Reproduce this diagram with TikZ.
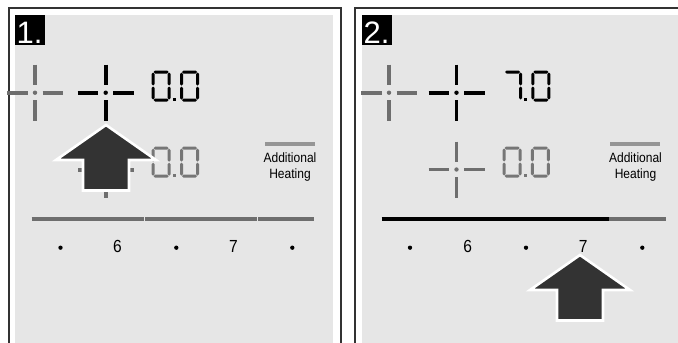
\documentclass[tikz,border=0pt]{standalone}
\usepackage{fontspec}
\setmainfont{Liberation Sans}
\newfontfamily\narrowfont[FakeStretch=0.89]{Liberation Sans}
\definecolor{bggrey}{HTML}{E6E6E6}
\definecolor{framecol}{HTML}{333333}
\definecolor{crossgrey}{HTML}{6E6E6E}
\definecolor{digitgrey}{HTML}{767676}
\definecolor{bargrey}{HTML}{959595}
\definecolor{arrowfill}{HTML}{333333}
\newcommand\hsg[3]{\fill (#1,#3) -- (#1+1.5,#3-1.5) -- (#2-1.5,#3-1.5) -- (#2,#3) -- (#2-1.5,#3+1.5) -- (#1+1.5,#3+1.5) -- cycle;}
\newcommand\vsg[3]{\fill (#1,#2) -- (#1+1.5,#2+1.5) -- (#1+1.5,#3-1.5) -- (#1,#3) -- (#1-1.5,#3-1.5) -- (#1-1.5,#2+1.5) -- cycle;}
\newcommand\digzero{\hsg{2}{17}{1.5}\hsg{2}{17}{29.5}\vsg{1.5}{2}{15}\vsg{1.5}{16}{29}\vsg{17.5}{2}{15}\vsg{17.5}{16}{29}}
\newcommand\digseven{\hsg{2}{17}{1.5}\vsg{17.5}{2}{15}\vsg{17.5}{16}{29}}
\begin{document}
\begin{tikzpicture}[x=1pt,y=-1pt,
  frame/.style={draw=framecol, line width=2pt},
  numbox/.style={fill=black, minimum width=30pt, minimum height=30pt, inner sep=0pt, anchor=north west},
  numtext/.style={text=white, font=\fontsize{31}{31}\selectfont, inner sep=0pt, anchor=base west},
  lbltext/.style={font=\narrowfont\fontsize{13.5}{14}\selectfont, inner sep=0pt, anchor=base},
  scaletext/.style={font=\narrowfont\fontsize{17.5}{18}\selectfont, inner sep=0pt, anchor=base},
  sliderline/.style={line width=4pt},
  barline/.style={draw=bargrey, line width=3.5pt},
  tick/.style={fill=black, circle, inner sep=0pt, minimum size=4.3pt},
  bigarrow/.style={fill=arrowfill, draw=white, line width=2.6pt, line join=miter},
  pics/crosshair/.style={code={
    \draw[line width=3.8pt] (-28,0) -- (-7.5,0) (7.5,0) -- (28,0) (0,-28) -- (0,-7.5) (0,7.5) -- (0,28);
    \fill (0,0) circle (2.2pt);
  }},
  pics/zerozero/.style={code={
    \digzero
    \fill (21,27.7) rectangle (24,30.7);
    \begin{scope}[shift={(28.3,0)}]\digzero\end{scope}
  }},
  pics/sevenzero/.style={code={
    \digseven
    \fill (21,27.7) rectangle (24,30.7);
    \begin{scope}[shift={(28.3,0)}]\digzero\end{scope}
  }},
  pics/uparrow/.style={code={
    \path[bigarrow] (0,0) -- (50,35) -- (23,35) -- (23,65.5) -- (-23,65.5) -- (-23,35) -- (-50,35) -- cycle;
  }}
]
\useasboundingbox (0,0) rectangle (678,343);
\clip (0,0) rectangle (678,343);
\fill[white] (0,0) rectangle (678,343);

% ---------- panel 1 ----------
\draw[frame] (9,8) rectangle (341,370);
\fill[bggrey] (15,15) rectangle (333,360);
\node[numbox] (b1) at (15,15) {};
\node[numtext] (t1) at (16.5,43.3) {1.};

\pic[color=crossgrey] (p1ga) at (35,92.7) {crosshair};
\pic[color=black] (p1ba) at (105.7,92.7) {crosshair};
\pic[color=black] (p1d1) at (151.7,70.5) {zerozero};
\pic[color=crossgrey] (p1gb) at (106,170) {crosshair};
\pic[color=digitgrey] (p1d2) at (151.7,146.7) {zerozero};

\draw[barline] (265,144) -- (315,144);
\node[lbltext] (ad1) at (290,162.5) {Additional};
\node[lbltext] (he1) at (290,178.7) {Heating};

\draw[sliderline, crossgrey] (31.7,219) -- (143.6,219) (145,219) -- (256.6,219) (258,219) -- (314,219);
\node[tick] (d11) at (60.5,247.7) {};
\node[scaletext] (s16) at (117.5,252.3) {6};
\node[tick] (d12) at (176.3,247.7) {};
\node[scaletext] (s17) at (233.5,252.3) {7};
\node[tick] (d13) at (292.3,247.7) {};

\pic (a1) at (106,125) {uparrow};

% ---------- panel 2 ----------
\draw[frame] (354.7,8) rectangle (720,370);
\fill[bggrey] (362,15) rectangle (700,360);
\node[numbox] (b2) at (362,15) {};
\node[numtext] (t2) at (363.5,43.3) {2.};

\pic[color=crossgrey] (p2ga) at (389,92.7) {crosshair};
\pic[color=black] (p2ba) at (456.5,92.7) {crosshair};
\pic[color=black] (p2d1) at (503,70.5) {sevenzero};
\pic[color=crossgrey] (p2gb) at (456.5,169.5) {crosshair};
\pic[color=digitgrey] (p2d2) at (502.5,146.5) {zerozero};

\draw[barline] (610,144) -- (660,144);
\node[lbltext] (ad2) at (635.5,162.5) {Additional};
\node[lbltext] (he2) at (635.5,178.7) {Heating};

\draw[sliderline, black] (381.7,219) -- (609.3,219);
\draw[sliderline, crossgrey] (609.3,219) -- (666,219);
\node[tick] (d21) at (410,247.7) {};
\node[scaletext] (s26) at (467.7,252.3) {6};
\node[tick] (d22) at (526,247.7) {};
\node[scaletext] (s27) at (583.3,252.3) {7};
\node[tick] (d23) at (642.3,247.7) {};

\pic (a2) at (580,255) {uparrow};
\end{tikzpicture}
\end{document}
